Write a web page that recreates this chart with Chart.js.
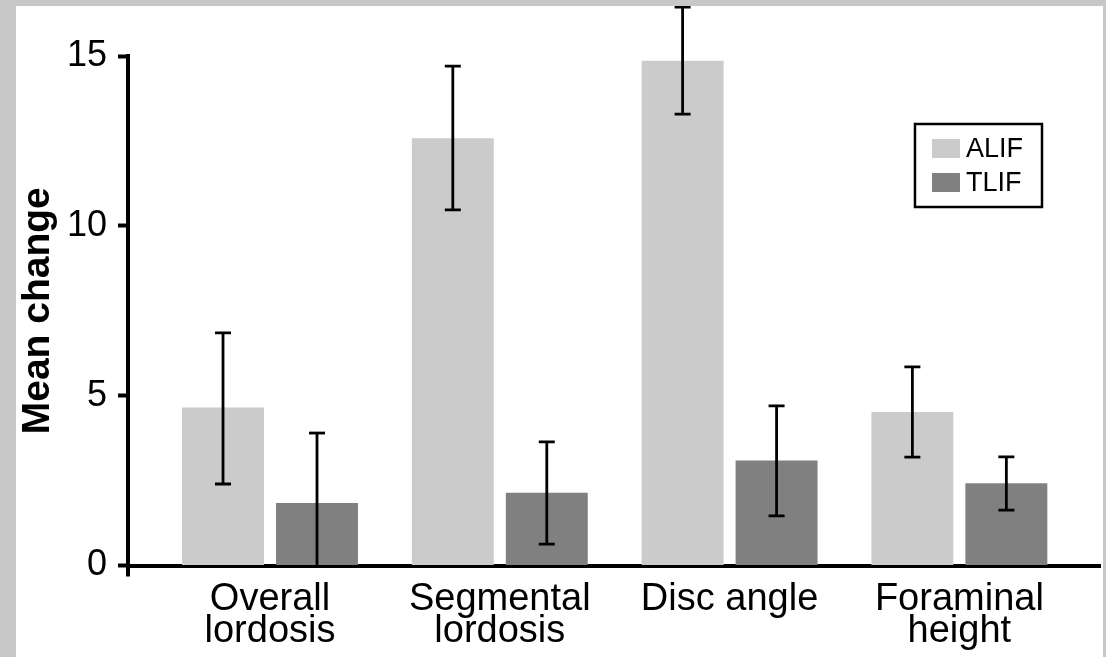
<!DOCTYPE html>
<html><head><meta charset="utf-8">
<script src="https://cdn.jsdelivr.net/npm/chart.js@4.4.1/dist/chart.umd.min.js"></script>
<style>
html,body{margin:0;padding:0;width:1106px;height:657px;overflow:hidden;background:#c7c7c7;}
#panel{position:absolute;left:16px;top:6px;width:1087px;height:651px;background:#fff;}
canvas{display:block;}
</style></head><body>
<div id="panel"><canvas id="c" width="1087" height="651"></canvas></div>
<script>
// ---- data ----
const categories = [['Overall','lordosis'],['Segmental','lordosis'],['Disc angle'],['Foraminal','height']];
const seriesNames = ['ALIF','TLIF'];
const alifMean = [4.65, 12.58, 14.86, 4.52];
const alifLow  = [2.40, 10.47, 13.29, 3.19];
const alifHigh = [6.85, 14.70, 16.44, 5.85];
const tlifMean = [1.84, 2.14, 3.09, 2.42];
const tlifLow  = [0.00, 0.63, 1.46, 1.63];
const tlifHigh = [3.90, 3.64, 4.70, 3.20];
const yTickValues = [0, 5, 10, 15];
const yTitle = 'Mean change';

const FONT = '"Liberation Sans", Arial, Helvetica, sans-serif';
const colors = ['#cbcbcb', '#808080'];

const toPoints = arr => arr.map((v, i) => ({x: i, y: v}));

const errorBars = {
  id: 'errorBars',
  afterDatasetsDraw(chart) {
    const ctx = chart.ctx;
    const ys = chart.scales.y;
    const area = chart.chartArea;
    ctx.save();
    ctx.strokeStyle = '#000';
    ctx.lineWidth = 2.8;
    ctx.lineCap = 'butt';
    chart.data.datasets.forEach((ds, d) => {
      const meta = chart.getDatasetMeta(d);
      meta.data.forEach((el, i) => {
        const x = el.x;
        const yl = ys.getPixelForValue(ds.errLow[i]);
        const yh = ys.getPixelForValue(ds.errHigh[i]);
        ctx.beginPath();
        ctx.moveTo(x, yl); ctx.lineTo(x, yh);
        ctx.stroke();
        const half = 8;
        ctx.beginPath();
        ctx.moveTo(x - half, yh); ctx.lineTo(x + half, yh);
        if (ds.errLow[i] > 0) { ctx.moveTo(x - half, yl); ctx.lineTo(x + half, yl); }
        ctx.stroke();
      });
    });
    // outward extension of the y axis below the x axis
    ctx.lineWidth = 4;
    ctx.beginPath();
    ctx.moveTo(area.left, area.bottom);
    ctx.lineTo(area.left, area.bottom + 11);
    ctx.stroke();
    ctx.restore();
  }
};

const boxLegend = {
  id: 'boxLegend',
  afterDraw(chart) {
    const ctx = chart.ctx;
    const area = chart.chartArea;
    ctx.save();
    ctx.font = '27px ' + FONT;
    const tw = Math.max(...chart.data.datasets.map(ds => ctx.measureText(ds.label).width));
    const padL = 17, sw = 28, sh = 19, gap = 6, padR = 19, rowH = 34, padT = 15;
    const w = padL + sw + gap + tw + padR;
    const h = 83;
    const right = area.right - 58;
    const left = right - w;
    const top = area.top + 68;
    ctx.lineWidth = 2.5;
    ctx.strokeStyle = '#000';
    ctx.strokeRect(left, top, w, h);
    ctx.textBaseline = 'middle';
    ctx.textAlign = 'left';
    chart.data.datasets.forEach((ds, d) => {
      const sy = top + padT + d * rowH;
      ctx.fillStyle = ds.backgroundColor;
      ctx.fillRect(left + padL, sy, sw, sh);
      ctx.fillStyle = '#000';
      ctx.fillText(ds.label, left + padL + sw + gap, sy + sh / 2 + 1);
    });
    ctx.restore();
  }
};

new Chart(document.getElementById('c'), {
  type: 'bar',
  data: {
    datasets: [
      {label: seriesNames[0], data: toPoints(alifMean), errLow: alifLow, errHigh: alifHigh, backgroundColor: colors[0]},
      {label: seriesNames[1], data: toPoints(tlifMean), errLow: tlifLow, errHigh: tlifHigh, backgroundColor: colors[1]}
    ]
  },
  options: {
    responsive: false,
    animation: false,
    devicePixelRatio: 1,
    categoryPercentage: 0.818,
    barPercentage: 0.872,
    layout: {padding: {top: 50, right: 3, bottom: 0, left: 0}},
    plugins: {legend: {display: false}, tooltip: {enabled: false}},
    scales: {
      x: {
        type: 'linear',
        min: -0.618,
        max: 3.612,
        offset: false,
        grid: {display: true, drawOnChartArea: false, drawTicks: false, offset: false, color: 'rgba(0,0,0,0)'},
        border: {display: true, color: '#000', width: 4},
        afterBuildTicks: s => { s.ticks = categories.map((_, i) => ({value: i})); },
        afterFit: s => { s.height = 91.5; },
        ticks: {
          autoSkip: false, maxRotation: 0, minRotation: 0, padding: 18,
          color: '#000',
          font: {family: FONT, size: 38, lineHeight: 0.84},
          callback: v => categories[v]
        }
      },
      y: {
        min: 0, max: 15,
        afterBuildTicks: s => { s.ticks = yTickValues.map(v => ({value: v})); },
        afterFit: s => { s.width = 112; },
        grid: {drawOnChartArea: false, drawTicks: true, tickLength: 10, tickWidth: 4, tickColor: '#000', color: '#000'},
        border: {display: true, color: '#000', width: 4},
        ticks: {padding: 11, color: '#000', font: {family: FONT, size: 36}},
        title: {display: true, text: yTitle, color: '#000', padding: {top: 2.5, bottom: 0},
                font: {family: FONT, size: 39, weight: 'bold', lineHeight: 1}}
      }
    }
  },
  plugins: [errorBars, boxLegend]
});
</script>
</body></html>
